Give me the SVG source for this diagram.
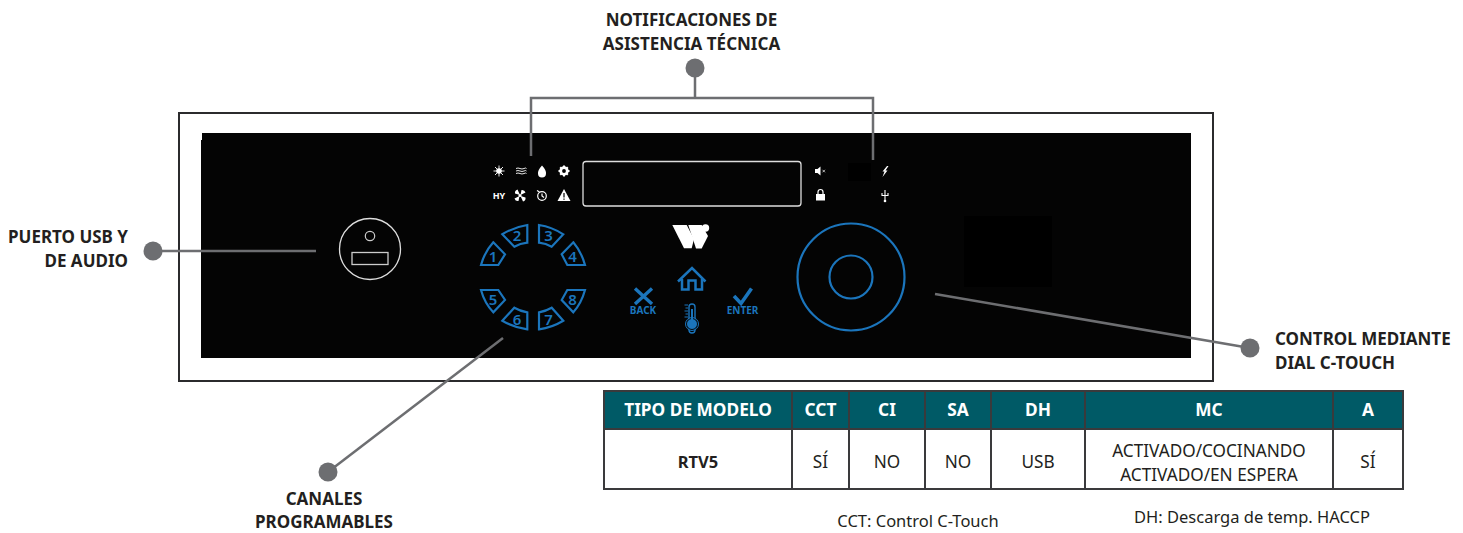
<svg xmlns="http://www.w3.org/2000/svg" width="1463" height="533" viewBox="0 0 1463 533">
<style>
text{font-family:"Noto Sans","Open Sans","Liberation Sans",sans-serif}
.lb{font-size:17px;font-weight:700;fill:#231f20;text-anchor:middle}
.th{font-size:17.300px;font-weight:700;fill:#fff;text-anchor:middle}
.td{font-size:17.200px;fill:#231f20;text-anchor:middle}
.tb{font-size:16.500px;font-weight:700;fill:#231f20;text-anchor:middle}
.nt{font-size:16.500px;fill:#231f20;text-anchor:middle}
.ld{fill:none;stroke:#6d6e71;stroke-width:2.500}
.dot{fill:#6d6e71}
.seg{fill:none;stroke:#1b75bc;stroke-width:2.200;stroke-linejoin:miter}
.num{font-size:15px;font-weight:600;fill:#1b75bc;text-anchor:middle}
.bl{font-size:10px;font-weight:700;fill:#1b75bc;text-anchor:middle}
.ic{fill:#fff}
.il{fill:none;stroke:#fff;stroke-width:1.200}
.grid{stroke:#3a3a3c;stroke-width:2;fill:none}
</style>
<rect width="1463" height="533" fill="#fff"/>
<g id="panel">
<rect x="179" y="113" width="1034" height="268" fill="#fff" stroke="#2b2b2d" stroke-width="2"/>
<path d="M202 133H1191V358H201V140H202Z" fill="#040404"/>
<rect x="964" y="216" width="88" height="71" fill="#000"/>
<rect x="848" y="163" width="23" height="18" fill="#000"/>
<rect x="583" y="161.500" width="218" height="44.500" rx="3" fill="none" stroke="#ddd" stroke-width="1.300"/>
</g>
<g id="usb-port">
<circle cx="370" cy="249" r="30.500" fill="none" stroke="#ddd" stroke-width="1.300"/>
<circle cx="370" cy="236" r="4.700" fill="none" stroke="#ccc" stroke-width="1.200"/>
<rect x="352" y="252.500" width="36" height="12" fill="none" stroke="#ccc" stroke-width="1.300"/>
</g>
<g id="status-icons">
<circle class="ic" cx="499" cy="171" r="2.800"/>
<path class="il" d="M499 165.500v11M493.500 171h11M495 167l8 8M503 167l-8 8" style="stroke-width:.9"/>
<path class="il" d="M516 168.500q2-1 4 0t4 0t2.500 0M516 171q2-1 4 0t4 0t2.500 0M516 173.500q2-1 4 0t4 0t2.500 0" style="stroke-width:.9"/>
<path class="ic" d="M542 165.500q4.500 5 4 8a4 4 0 0 1-8 0q-.5-3 4-8z"/>
<circle cx="564" cy="171" r="3.300" fill="none" stroke="#fff" stroke-width="2.800"/>
<path class="il" style="stroke-width:2" d="M564 165.500v2M564 174.500v2M558.500 171h2M567.500 171h2M560.200 167.200l1.300 1.300M566.500 173.500l1.300 1.300M567.800 167.200l-1.300 1.300M561.500 173.500l-1.300 1.300"/>
<text x="499" y="198.500" font-size="9" font-weight="700" fill="#fff" text-anchor="middle">HY</text>
<circle class="ic" cx="520" cy="195.500" r="1.500"/>
<path class="ic" d="M520 195l-5-1.500q-.5-3 2.500-4zM520.500 195l1-5q3-.5 4 2.500zM520.500 196l5 1.500q.5 3-2.500 4zM519.500 196l-1 5q-3 .5-4-2.500z"/>
<circle class="il" cx="542" cy="196" r="4.300"/>
<path class="il" d="M537 190.500l2.500 1.500M542 193.500v2.500l2 1.500"/>
<path class="ic" d="M564 189l6.500 12h-13z"/>
<rect x="563.400" y="193" width="1.200" height="4.500" fill="#000"/><rect x="563.400" y="198.500" width="1.200" height="1.300" fill="#000"/>
<path class="ic" d="M815 169h2.500l3-2.500v9l-3-2.500h-2.500z"/>
<path class="il" d="M822.500 169.800l2.500 2.500M825 169.800l-2.500 2.500" style="stroke-width:.7"/>
<rect class="ic" x="816" y="194" width="9" height="6.500"/>
<path class="il" d="M818 194v-2a2.500 2.500 0 0 1 5 0v2"/>
<path class="ic" d="M887 166l-4.500 5.500h2l-2 5.500 5-6.500h-2l3-4.500z"/>
<path class="il" d="M885 190v10M882 193v2.500h6v-2.500" style="stroke-width:1.100"/><circle class="ic" cx="885" cy="201" r="1.300"/>
</g>
<g id="channels">
<path class="seg" d="M493.300 242.300L505 254.300L498.300 265H481Q484.500 252 493.300 242.300Z"/>
<path class="seg" d="M502.300 234.300Q514 227 527.300 225V242.700Q520 243.500 514.300 246.700Z"/>
<path class="seg" d="M539 225Q552 227 563.300 234.300L551.700 246.700Q546 243.500 539 242.700Z"/>
<path class="seg" d="M573.300 242.300Q581.500 252 585 265H567.300L561.700 254.300Z"/>
<path class="seg" d="M481 290H498.300L505 300L493.300 312.300Q484.500 303 481 290Z"/>
<path class="seg" d="M502.300 320.700L514.300 307.700Q520 311 527.300 312.300V329.300Q514 327.500 502.300 320.700Z"/>
<path class="seg" d="M539 312.300Q546 311 551.700 307.700L563.300 320.700Q552 327.500 539 329.300Z"/>
<path class="seg" d="M567.300 290H585Q581.500 303 573.300 312.300L561.700 300Z"/>
<text class="num" x="493" y="261.500">1</text>
<text class="num" x="517" y="241">2</text>
<text class="num" x="548.500" y="241">3</text>
<text class="num" x="572.500" y="261.500">4</text>
<text class="num" x="493" y="304.500">5</text>
<text class="num" x="517" y="325">6</text>
<text class="num" x="548.500" y="325">7</text>
<text class="num" x="572.500" y="304.500">8</text>
</g>
<g id="logo">
<path class="ic" d="M672.300 225H686.700L694 239L691.700 248.300H684Z"/>
<path class="ic" d="M688.300 225H701.700L708 236L701.700 248.500H696Z"/>
<circle class="ic" cx="705.500" cy="228" r="3.700"/>
</g>
<g id="controls">
<path fill="none" stroke="#1b75bc" stroke-width="2.500" d="M678 281.500L692 268L705.500 281.500M682 279V289.500H688.500V280.500H695.500V289.500H702V279"/>
<path fill="none" stroke="#1b75bc" stroke-width="3.400" d="M635 288.500L652 304M652 288.500L635 304"/>
<text class="bl" x="643" y="314">BACK</text>
<path fill="none" stroke="#1b75bc" stroke-width="3.600" d="M734 296L741 303.500L751.500 288.500"/>
<text class="bl" x="742.500" y="314">ENTER</text>
<rect x="689" y="304" width="6" height="29" rx="3" fill="#040404" stroke="#1b75bc" stroke-width="1.400"/>
<circle cx="692" cy="324" r="5.500" fill="#1b75bc" stroke="#040404" stroke-width="1"/>
<circle cx="692" cy="324" r="6.500" fill="none" stroke="#1b75bc" stroke-width="1"/>
<rect x="691" y="309" width="2" height="12" fill="#1b75bc"/>
<path fill="none" stroke="#1b75bc" stroke-width="1" d="M684.500 305H688M685.500 308H688M684.500 311H688M685.500 314H688M684.500 317H688"/>
</g>
<g id="dial">
<circle cx="851" cy="277" r="53.500" fill="none" stroke="#1b75bc" stroke-width="2.200"/>
<circle cx="851" cy="277" r="21.500" fill="none" stroke="#1b75bc" stroke-width="2.200"/>
</g>
<g id="connectors">
<path class="ld" d="M531 156V98H873V160M695 68V98"/>
<path class="ld" d="M153 251H316"/>
<path class="ld" d="M935 294L1250 348"/>
<path class="ld" d="M503 338L328 472"/>
</g>
<g id="label-tech">
<circle class="dot" cx="695" cy="68" r="9.500"/>
<text class="lb" x="691.500" y="26">NOTIFICACIONES DE</text>
<text class="lb" x="691.500" y="50">ASISTENCIA TÉCNICA</text>
</g>
<g id="label-usb">
<circle class="dot" cx="153" cy="251" r="9.500"/>
<text class="lb" style="text-anchor:end" x="128" y="243">PUERTO USB Y</text>
<text class="lb" style="text-anchor:end" x="128" y="267">DE AUDIO</text>
</g>
<g id="label-dial">
<circle class="dot" cx="1250" cy="348" r="9.500"/>
<text class="lb" style="text-anchor:start" x="1275" y="345">CONTROL MEDIANTE</text>
<text class="lb" style="text-anchor:start" x="1275" y="369">DIAL C-TOUCH</text>
</g>
<g id="label-channels">
<circle class="dot" cx="328" cy="472" r="9.500"/>
<text class="lb" x="324" y="505">CANALES</text>
<text class="lb" x="324" y="528">PROGRAMABLES</text>
</g>
<g id="table">
<rect x="604" y="391" width="799" height="38" fill="#005a66"/>
<rect x="604" y="391" width="799" height="98" class="grid"/>
<path class="grid" d="M604 429H1403M792 391V489M849 391V489M925 391V489M991 391V489M1085 391V489M1333 391V489"/>
<text class="th" x="698" y="416">TIPO DE MODELO</text>
<text class="th" x="820.500" y="416">CCT</text>
<text class="th" x="887" y="416">CI</text>
<text class="th" x="958" y="416">SA</text>
<text class="th" x="1038" y="416">DH</text>
<text class="th" x="1209" y="416">MC</text>
<text class="th" x="1368" y="416">A</text>
<text class="tb" x="698" y="468">RTV5</text>
<text class="td" x="820.500" y="468">SÍ</text>
<text class="td" x="887" y="468">NO</text>
<text class="td" x="958" y="468">NO</text>
<text class="td" x="1038" y="468">USB</text>
<text class="td" x="1209" y="456.500">ACTIVADO/COCINANDO</text>
<text class="td" x="1209" y="480.500">ACTIVADO/EN ESPERA</text>
<text class="td" x="1368" y="468">SÍ</text>
</g>
<g id="notes">
<text class="nt" x="918" y="527">CCT: Control C-Touch</text>
<text class="nt" x="1252" y="523">DH: Descarga de temp. HACCP</text>
</g>
</svg>
